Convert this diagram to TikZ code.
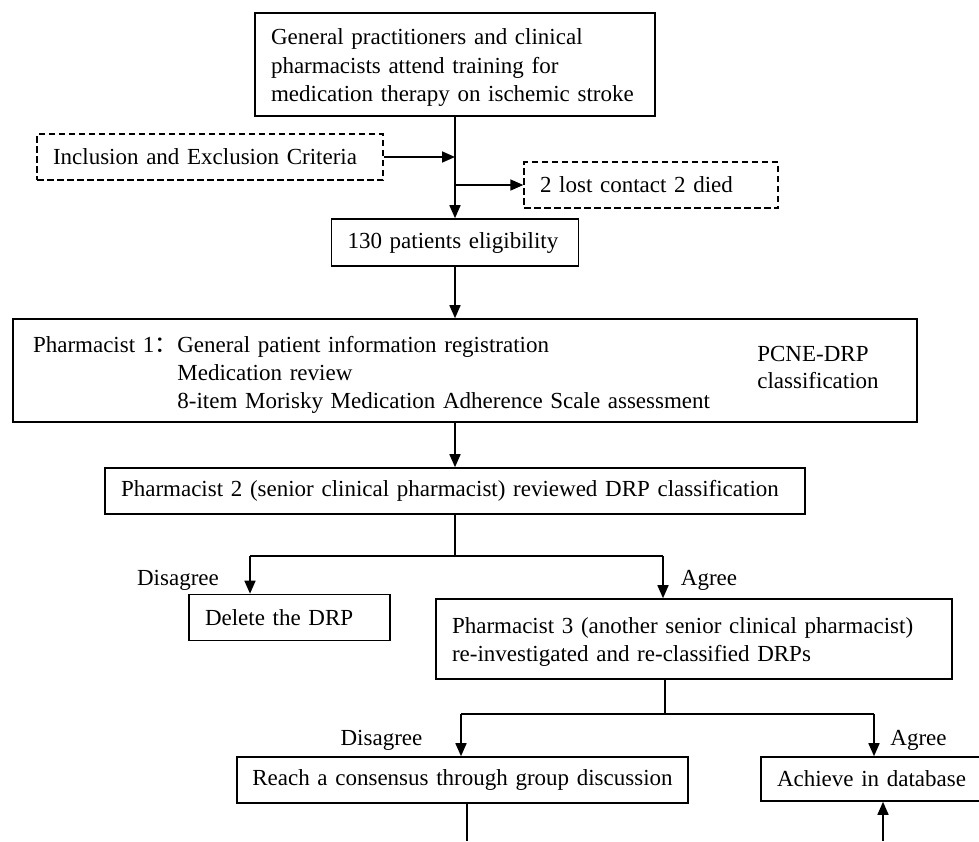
\documentclass[tikz,border=0pt]{standalone}
\usepackage{fontspec}
\setmainfont{Liberation Serif}
\newfontfamily\cjk{Noto Sans CJK SC}
\usetikzlibrary{arrows.meta}

\begin{document}
\begin{tikzpicture} [x=1pt, y=-1pt,
	box/.style={draw, line width=1.6pt, text width=#1, align=left, inner xsep=16pt, minimum height=46pt, font=\fontsize{23}{28}\selectfont},
	dbox/.style={box=#1, line width=1.4pt, dash pattern=on 6.5pt off 3.5pt},
	arr/.style={-{Triangle[length=13pt,width=11pt]}, line width=1.6pt},
	lbl/.style={font=\fontsize{23}{28}\selectfont, inner sep=0pt}]
	\useasboundingbox (0,0) rectangle (979,841);
	\node [box=368pt, minimum height=103pt, font=\fontsize{23}{28.5}\selectfont] (train) at (455,64.5)
		{\rule{0pt}{22pt}General practitioners and clinical\\pharmacists attend training for\\medication therapy on ischemic stroke};
	\node [dbox=314pt] (incl) at (210,157) {Inclusion and Exclusion Criteria};
	\node [dbox=222pt] (lost) at (651,185) {2 lost contact 2 died};
	\node [box=215pt, minimum height=47pt] (elig) at (455,242.5) {130 patients eligibility};
	\node [box=864pt, inner xsep=20pt, minimum height=103pt] (pharm1) at (465,370.5)
		{\rule{0pt}{27.6pt}Pharmacist 1{\cjk ：}\makebox[580pt][l]{\begin{tabular}[t]{@{}l@{}}General patient information registration\\Medication review\\8-item Morisky Medication Adherence Scale assessment\end{tabular}}%
		\raisebox{-9pt}{\begin{tabular}[t]{@{}l@{}}PCNE-DRP\\[-1pt]classification\end{tabular}}};
	\node [box=668pt] (pharm2) at (455,491) {Pharmacist 2 (senior clinical pharmacist) reviewed DRP classification};
	\node [box=169pt] (del) at (289.5,617.5) {Delete the DRP};
	\node [box=484pt, minimum height=80pt] (pharm3) at (694,639)
		{\rule{0pt}{22pt}Pharmacist 3 (another senior clinical pharmacist)\\re-investigated and re-classified DRPs};
	\node [box=431pt, inner xsep=10pt, align=center] (cons) at (462.5,780) {Reach a consensus through group discussion};
	\node [box=190pt, minimum height=44pt] (achv) at (872,779) {Achieve in database};

	\node [lbl] (no1) at (178,580) {Disagree};
	\node [lbl] (yes1) at (709,580) {Agree};
	\node [lbl] (no2) at (381.5,740) {Disagree};
	\node [lbl] (yes2) at (918.5,740) {Agree};

	\coordinate (s1) at (455,556);
	\coordinate (s1l) at (250,556);
	\coordinate (s1r) at (663,556);
	\coordinate (s2) at (665,714);
	\coordinate (s2l) at (461,714);
	\coordinate (s2r) at (874,714);
	\coordinate (b1) at (467,841);
	\coordinate (b2) at (883,841);

	\draw [arr] (train.south) -- (elig.north);
	\draw [arr] (incl.east) -- (incl.east -| train.south);
	\draw [arr] (train.south |- lost.west) -- (lost.west);
	\draw [arr] (elig.south) -- (elig.south |- pharm1.north);
	\draw [arr] (pharm2.north |- pharm1.south) -- (pharm2.north);
	\draw [line width=1.6pt] (pharm2.south) -- (s1) (s1l) -- (s1r);
	\draw [arr] (s1l) -- (s1l |- del.north);
	\draw [arr] (s1r) -- (s1r |- pharm3.north);
	\draw [line width=1.6pt] (s2 |- pharm3.south) -- (s2) (s2l) -- (s2r);
	\draw [arr] (s2l) -- (s2l |- cons.north);
	\draw [arr] (s2r) -- (s2r |- achv.north);
	\draw [line width=1.6pt] (b1 |- cons.south) -- (b1);
	\draw [arr] (b2) -- (b2 |- achv.south);
\end{tikzpicture}
\end{document}
